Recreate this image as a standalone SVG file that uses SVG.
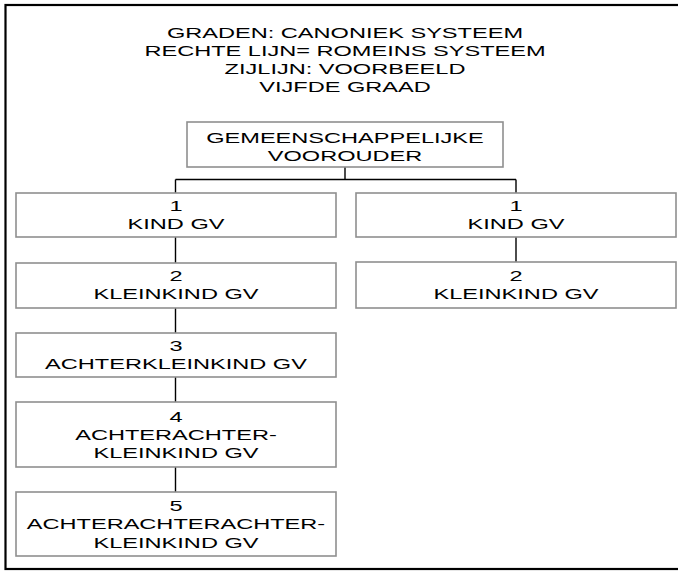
<svg xmlns="http://www.w3.org/2000/svg" width="678" height="571" viewBox="0 0 678 571">
<style>
text{font-family:"Liberation Sans",Arial,Helvetica,sans-serif;font-size:15.5px;fill:#000;text-anchor:middle}
.box{fill:#fff;stroke:#8f8f8f;stroke-width:1.6}
.con{stroke:#000;stroke-width:1.4;fill:none}
</style>
<rect width="678" height="571" fill="#fff"/>
<rect id="frame" x="5.5" y="5" width="690" height="564" fill="none" stroke="#000" stroke-width="2.2"/>
<g id="title">
<text transform="matrix(1.52 0 0 1 345 37.5)">GRADEN: CANONIEK SYSTEEM</text>
<text transform="matrix(1.52 0 0 1 345 55.8)">RECHTE LIJN= ROMEINS SYSTEEM</text>
<text transform="matrix(1.52 0 0 1 345 74)">ZIJLIJN: VOORBEELD</text>
<text transform="matrix(1.52 0 0 1 345 92.3)">VIJFDE GRAAD</text>
</g>
<g id="connectors">
<path class="con" d="M345 167V179.5M175.5 179.5H516M175.5 179.5V193M516 179.5V193"/>
<path class="con" d="M175.5 237V263M175.5 308V333M175.5 377V402M175.5 467V492"/>
<path class="con" d="M516 237V262"/>
</g>
<g id="root">
<rect class="box" x="187" y="122" width="316" height="45"/>
<text transform="matrix(1.52 0 0 1 345 142.7)">GEMEENSCHAPPELIJKE</text>
<text transform="matrix(1.52 0 0 1 345 161)">VOOROUDER</text>
</g>
<g id="left1">
<rect class="box" x="16" y="193" width="320" height="44"/>
<text transform="matrix(1.52 0 0 1 176 211)">1</text>
<text transform="matrix(1.52 0 0 1 176 229.3)">KIND GV</text>
</g>
<g id="left2">
<rect class="box" x="16" y="263" width="320" height="45"/>
<text transform="matrix(1.52 0 0 1 176 280.5)">2</text>
<text transform="matrix(1.52 0 0 1 176 299)">KLEINKIND GV</text>
</g>
<g id="left3">
<rect class="box" x="16" y="333" width="320" height="44"/>
<text transform="matrix(1.52 0 0 1 176 351)">3</text>
<text transform="matrix(1.52 0 0 1 176 369.3)">ACHTERKLEINKIND GV</text>
</g>
<g id="left4">
<rect class="box" x="16" y="402" width="320" height="65"/>
<text transform="matrix(1.52 0 0 1 176 421.7)">4</text>
<text transform="matrix(1.52 0 0 1 176 440)">ACHTERACHTER-</text>
<text transform="matrix(1.52 0 0 1 176 458.3)">KLEINKIND GV</text>
</g>
<g id="left5">
<rect class="box" x="16" y="492" width="320" height="64"/>
<text transform="matrix(1.52 0 0 1 176 511)">5</text>
<text transform="matrix(1.52 0 0 1 176 529.3)">ACHTERACHTERACHTER-</text>
<text transform="matrix(1.52 0 0 1 176 547.6)">KLEINKIND GV</text>
</g>
<g id="right1">
<rect class="box" x="356" y="193" width="320" height="44"/>
<text transform="matrix(1.52 0 0 1 516 211)">1</text>
<text transform="matrix(1.52 0 0 1 516 229.3)">KIND GV</text>
</g>
<g id="right2">
<rect class="box" x="356" y="262" width="320" height="46"/>
<text transform="matrix(1.52 0 0 1 516 280.5)">2</text>
<text transform="matrix(1.52 0 0 1 516 299)">KLEINKIND GV</text>
</g>
</svg>
